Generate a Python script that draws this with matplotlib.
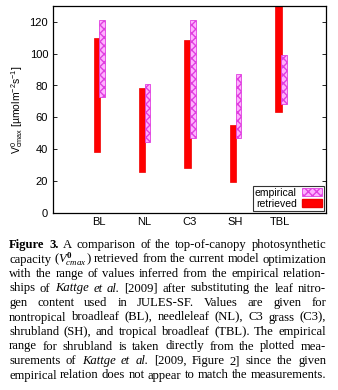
import numpy as np
import matplotlib.pyplot as plt
from matplotlib.patches import Patch

# --- data ---
pfts = ['BL', 'NL', 'C3', 'SH', 'TBL']
ret_lo = [38, 26, 28.5, 19.5, 63.5]
ret_hi = [110, 78.5, 108.5, 55, 131]
emp_lo = [73, 44.5, 47, 47, 68.5]
emp_hi = [121, 81, 121, 87, 99]

caption = [
    [('Figure 3.', 'bold'), ('  A comparison of the top-of-canopy photosynthetic', 'normal')],
    [('capacity (', 'normal'), (r'$V^{\mathbf{0}}_{cmax}$', 'normal'), (') retrieved from the current model optimization', 'normal')],
    [('with the range of values inferred from the empirical relation-', 'normal')],
    [('ships of ', 'normal'), ('Kattge et al.', 'italic'), (' [2009] after substituting the leaf nitro-', 'normal')],
    [('gen content used in JULES-SF. Values are given for', 'normal')],
    [('nontropical broadleaf (BL), needleleaf (NL), C3 grass (C3),', 'normal')],
    [('shrubland (SH), and tropical broadleaf (TBL). The empirical', 'normal')],
    [('range for shrubland is taken directly from the plotted mea-', 'normal')],
    [('surements of ', 'normal'), ('Kattge et al.', 'italic'), (' [2009, Figure 2] since the given', 'normal')],
    [('empirical relation does not appear to match the measurements.', 'normal')],
]

plt.rcParams['font.family'] = 'Liberation Sans'
plt.rcParams['mathtext.fontset'] = 'custom'
plt.rcParams['mathtext.rm'] = 'Liberation Sans'
plt.rcParams['mathtext.it'] = 'Liberation Serif:italic'
plt.rcParams['mathtext.bf'] = 'Liberation Serif:bold'

fig = plt.figure(figsize=(3.38, 3.90), dpi=100)
ax = fig.add_axes([0.157, 0.454, 0.807, 0.531])

x = np.arange(1, len(pfts) + 1)
ret_lo = np.array(ret_lo); ret_hi = np.array(ret_hi)
emp_lo = np.array(emp_lo); emp_hi = np.array(emp_hi)

ax.bar(x - 0.04, ret_hi - ret_lo, bottom=ret_lo, width=0.14, color='#ff0000', edgecolor='#ee0000', lw=0.5)
ax.bar(x + 0.08, emp_hi - emp_lo, bottom=emp_lo, width=0.12, color='#ffb0ff',
       edgecolor='#e040e0', hatch='xxxx', lw=0.6)

ax.set_xlim(0, 6)
ax.set_ylim(0, 130)
ax.set_xticks(x)
ax.set_xticklabels(pfts)
ax.set_yticks(np.arange(0, 121, 20))
ax.tick_params(axis='x', length=0, labelsize=8, pad=3)
ax.tick_params(axis='y', direction='in', length=3, width=0.6, labelsize=8, right=True)
for s in ax.spines.values():
    s.set_linewidth(0.9)
ax.set_ylabel('V$^0_{\\rm cmax}$ [µmolm$^{-2}$s$^{-1}$]', fontsize=7.5, labelpad=3)

handles = [Patch(facecolor='#ffb0ff', edgecolor='#e040e0', hatch='xxxx', lw=0.6),
           Patch(facecolor='#ff0000', edgecolor='#ee0000')]
leg = ax.legend(handles, ['empirical', 'retrieved'], loc='lower right', markerfirst=False,
                fontsize=7.5, frameon=True, fancybox=False, borderpad=0.2, labelspacing=0.1,
                handlelength=1.9, handleheight=0.7, handletextpad=0.5, borderaxespad=0.2)
leg.get_frame().set_edgecolor('black')
leg.get_frame().set_linewidth(0.8)

# --- caption, justified word by word ---
fig.canvas.draw()
r = fig.canvas.get_renderer()
x0, x1 = 9 / 338, 326 / 338

# size the serif font so the last (full) line spans the column
probe = fig.text(0, 0, caption[-1][0][0], fontsize=10, family='Liberation Serif')
fs = 10 * (x1 - x0) * fig.bbox.width / probe.get_window_extent(r).width
probe.remove()

y_top = 248
step = 14.5
for i, line in enumerate(caption):
    words = []
    for txt, style in line:
        for w in txt.split():
            words.append((w, style))
    ys = 1 - (y_top + i * step) / 390
    arts = []
    widths = []
    for w, style in words:
        t = fig.text(0, ys, w, fontsize=fs, family='Liberation Serif',
                     fontweight='bold' if style == 'bold' else 'normal',
                     fontstyle='italic' if style == 'italic' else 'normal', va='baseline')
        arts.append(t)
        widths.append(t.get_window_extent(r).width / fig.bbox.width)
    # tokens with no space between them in the source stay glued
    full = ''.join(tx for tx, _ in line)
    gaps_allowed = []
    pos = 0
    for j, (w, style) in enumerate(words):
        idx = full.find(w, pos)
        gaps_allowed.append(j > 0 and idx > pos)
        pos = idx + len(w)
    total = sum(widths)
    ngaps = sum(gaps_allowed)
    gap = (x1 - x0 - total) / max(ngaps, 1)
    xc = x0
    for j, t in enumerate(arts):
        if gaps_allowed[j]:
            xc += gap
        t.set_x(xc)
        xc += widths[j]

fig.savefig('out.png', dpi=100)
